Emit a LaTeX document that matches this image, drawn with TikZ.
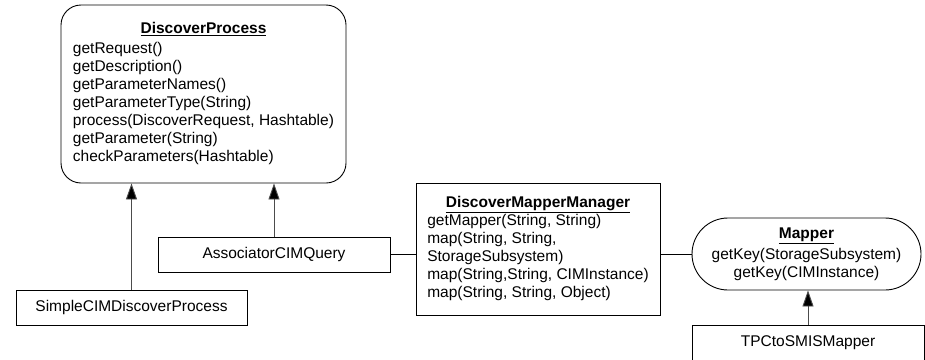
\documentclass[tikz,border=0pt]{standalone}
\usepackage{fontspec}
\setmainfont{Liberation Sans}
\usetikzlibrary{arrows.meta}

\newcommand{\umltitle}[1]{\underline{\textbf{#1}}}

\begin{document}
\begin{tikzpicture}[x=1pt,y=-1pt,
    font=\fontsize{15.5}{18}\selectfont,
    classbox/.style={draw=black, line width=0.9pt, fill=white, inner sep=0pt},
    roundbox/.style={classbox, rounded corners=20pt},
    pillbox/.style={classbox, rounded corners=36pt},
    inherit/.style={draw=black!70, line width=0.9pt,
      -{Triangle[width=11pt,length=16pt,fill=black]}},
    assoc/.style={draw=black, line width=0.9pt}]

  \useasboundingbox (0,0) rectangle (925,359);

  % abstract base process
  \node[roundbox, minimum width=285pt, minimum height=178pt] (dp) at (203.5,94) {%
    \begin{tabular}{@{}l@{}}
      \multicolumn{1}{c}{\umltitle{DiscoverProcess}}\\[2pt]
      getRequest()\\
      getDescription()\\
      getParameterNames()\\
      getParameterType(String)\\
      process(DiscoverRequest, Hashtable)\\
      getParameter(String)\\
      checkParameters(Hashtable)
    \end{tabular}};

  % concrete processes
  \node[classbox, minimum width=231pt, minimum height=35pt] (simple) at (131.5,307.5)
    {SimpleCIMDiscoverProcess};
  \node[classbox, minimum width=232pt, minimum height=35pt] (acq) at (274,254.5)
    {AssociatorCIMQuery};

  % mapper manager
  \node[classbox, minimum width=244pt, minimum height=132pt] (dmm) at (538,249) {%
    \begin{tabular}{@{}l@{}}
      \multicolumn{1}{c}{\umltitle{DiscoverMapperManager}}\\
      getMapper(String, String)\\
      map(String, String,\\
      StorageSubsystem)\\
      map(String,String, CIMInstance)\\
      map(String, String, Object)
    \end{tabular}};

  % mapper interface and implementation
  \node[pillbox, minimum width=229pt, minimum height=72pt] (mapper) at (806.5,254) {%
    \begin{tabular}{@{}c@{}}
      \umltitle{Mapper}\\[3pt]
      getKey(StorageSubsystem)\\
      getKey(CIMInstance)
    \end{tabular}};
  \node[classbox, minimum width=232pt, minimum height=36pt] (tpc) at (808,343)
    {TPCtoSMISMapper};

  % connectors
  \draw[inherit] (simple.north) -- (simple.north |- dp.south);
  \draw[inherit] (acq.north) -- (acq.north |- dp.south);
  \draw[assoc] (acq.east) -- (acq.east -| dmm.west);
  \draw[assoc] (dmm.east |- mapper.west) -- (mapper.west);
  \draw[inherit] (tpc.north) -- (tpc.north |- mapper.south);
\end{tikzpicture}
\end{document}
